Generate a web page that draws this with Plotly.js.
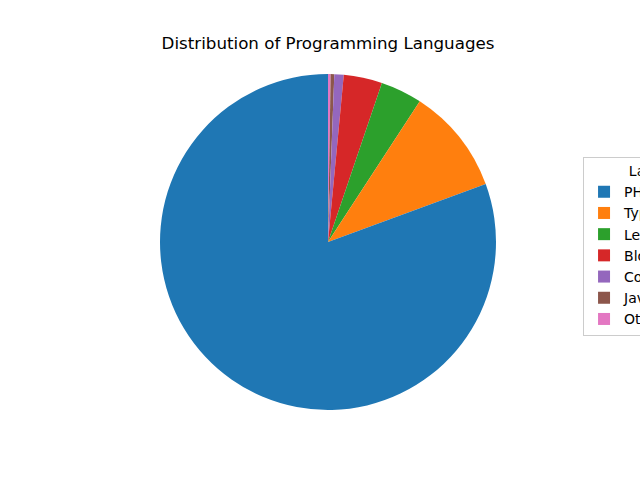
<!DOCTYPE html>
<html>
<head>
<meta charset="utf-8">
<script src="https://cdn.plot.ly/plotly-3.0.1.min.js"></script>
<style>html,body{margin:0;padding:0;background:#fff;}#chart{width:640px;height:480px;}</style>
</head>
<body>
<div id="chart"></div>
<script>
const languages = ["PHP", "TypeScript", "Lean", "Blockly", "CoffeeScript", "Java", "Other Languages"];
const shares = [80.6, 10.2, 4.0, 3.7, 0.9, 0.35, 0.25];
const colors = ["#1f77b4", "#ff7f0e", "#2ca02c", "#d62728", "#9467bd", "#8c564b", "#e377c2"];

// Drawn clockwise from 12 o'clock in reverse order so that the slices
// appear counterclockwise starting with the first language.
const trace = {
  type: "pie",
  labels: languages.slice().reverse(),
  values: shares.slice().reverse(),
  sort: false,
  direction: "clockwise",
  rotation: 0,
  textinfo: "none",
  hoverinfo: "skip",
  marker: {colors: colors.slice().reverse(), line: {width: 0}},
  domain: {x: [0.25, 0.775], y: [0.1458, 0.8458]}
};

const layout = {
  width: 640, height: 480,
  margin: {l: 0, r: 0, t: 0, b: 0, autoexpand: false},
  paper_bgcolor: "#fff",
  font: {family: "DejaVu Sans", color: "#000"},
  title: {text: "Distribution of Programming Languages", font: {size: 16.7, family: "DejaVu Sans"}, x: 0.5125, xanchor: "center", y: 0.91, yanchor: "middle"},
  showlegend: true,
  legend: {
    x: 0.911, xanchor: "left", y: 0.673, yanchor: "top",
    traceorder: "reversed",
    bgcolor: "#fff", bordercolor: "#cccccc", borderwidth: 1,
    font: {size: 14, family: "DejaVu Sans"},
    title: {text: "Languages", font: {size: 14}, side: "top center"}
  }
};

Plotly.newPlot("chart", [trace], layout, {staticPlot: true});
</script>
</body>
</html>
